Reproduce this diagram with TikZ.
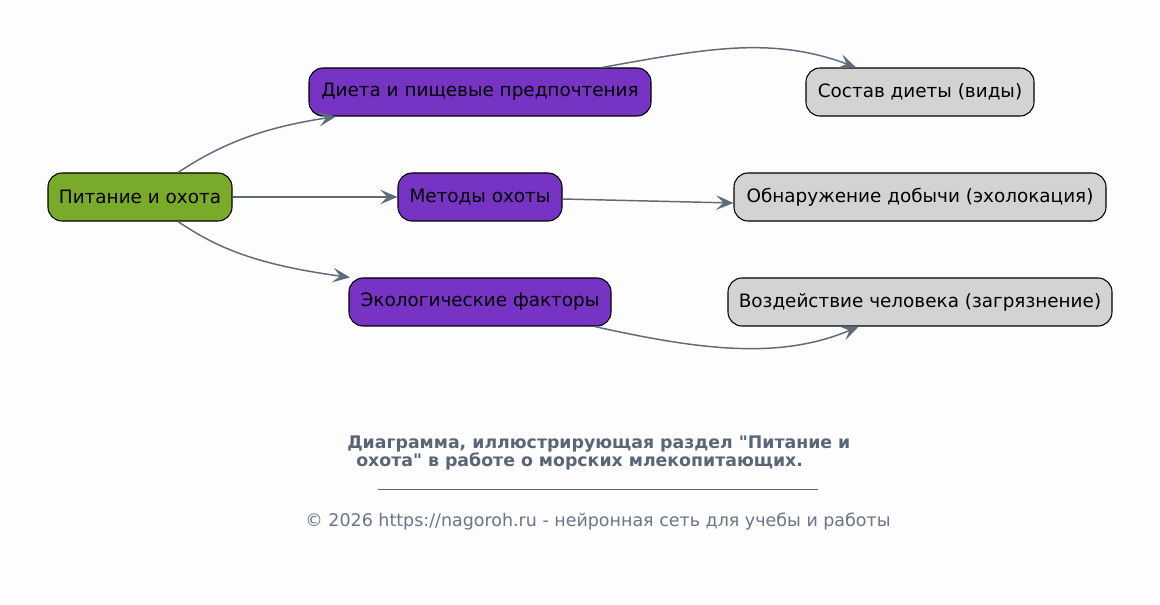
\documentclass[tikz,border=0pt]{standalone}
\usepackage{fontspec}
\setmainfont{DejaVu Sans}[Ligatures=TeXOff]
\usetikzlibrary{arrows.meta}
\definecolor{bgc}{HTML}{FDFDFD}
\definecolor{greenc}{HTML}{7AAA2A}
\definecolor{purplec}{HTML}{7733C4}
\definecolor{grayc}{HTML}{D3D3D3}
\definecolor{edgec}{HTML}{5F6B7A}
\definecolor{capc}{HTML}{5A6677}
\definecolor{footc}{HTML}{6A7585}
\tikzset{
  box/.style={draw=black, line width=0.8pt, rounded corners=10.5pt, minimum height=36pt, inner xsep=8pt, font=\fontsize{13.8}{15}\selectfont, text=black},
  rootbox/.style={box, fill=greenc},
  midbox/.style={box, fill=purplec},
  leafbox/.style={box, fill=grayc},
  conn/.style={draw=edgec, line width=1.1pt, -{Stealth[length=13pt, width=11pt, inset=5.5pt]}},
  captext/.style={anchor=west, text=capc, font=\bfseries\fontsize{13}{15}\selectfont, inner sep=0pt},
}
\begin{document}
\begin{tikzpicture}[x=0.75pt, y=-0.75pt]
\useasboundingbox[fill=bgc] (0,0) rectangle (1160,605);
\node[rootbox, minimum width=138pt] (A) at (140,197) {Питание и охота};
\node[midbox, minimum width=256.5pt] (B) at (480,92) {Диета и пищевые предпочтения};
\node[midbox, minimum width=123pt] (C) at (480,197) {Методы охоты};
\node[midbox, minimum width=196.5pt] (D) at (480,302) {Экологические факторы};
\node[leafbox, minimum width=171pt] (E) at (920,92) {Состав диеты (виды)};
\node[leafbox, minimum width=279pt] (F) at (920,197) {Обнаружение добычи (эхолокация)};
\node[leafbox, minimum width=288pt] (G) at (920,302) {Воздействие человека (загрязнение)};

\draw[conn] ([xshift=28.5pt]A.north) .. controls (220,145) and (260,128) .. ([xshift=-108pt]B.south);
\draw[conn] (A.east) -- (C.west);
\draw[conn] ([xshift=28.5pt]A.south) .. controls (220,250) and (260,265) .. ([xshift=-97.5pt]D.north);
\draw[conn] ([xshift=91.5pt]B.north) .. controls (700,50) and (770,35) .. ([xshift=-48pt]E.north);
\draw[conn] ([yshift=-1.5pt]C.east) -- ([yshift=-4.5pt]F.west);
\draw[conn] ([xshift=86pt]D.south) .. controls (700,350) and (780,360) .. ([xshift=-46pt]G.south);

\node[captext] (cap1) at (347,444.5) {Диаграмма, иллюстрирующая раздел "Питание и};
\node[captext] (cap2) at (356,461.5) {охота" в работе о морских млекопитающих.};
\coordinate (r1) at (378,489);
\coordinate (r2) at (818,489);
\draw[draw=capc, line width=0.6pt] (r1) -- (r2);
\node[text=footc, font=\fontsize{13.1}{15}\selectfont, inner sep=0pt] (foot) at (598,521.5) {© 2026 https://nagoroh.ru - нейронная сеть для учебы и работы};
\end{tikzpicture}
\end{document}
